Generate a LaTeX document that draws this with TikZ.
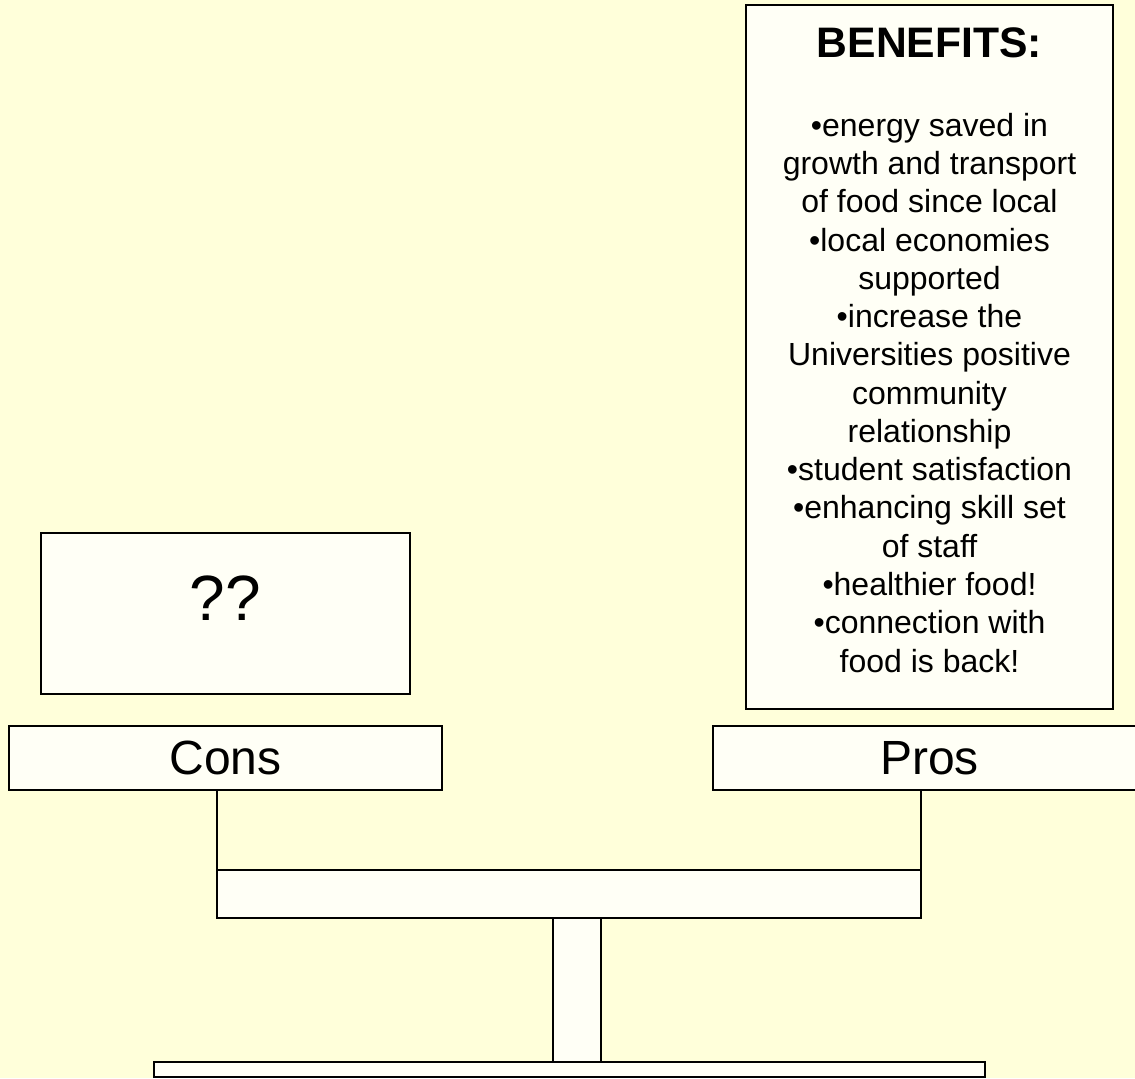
\documentclass[tikz,border=0pt]{standalone}
\usepackage{fontspec}
\setmainfont{Liberation Sans}
\definecolor{bgyellow}{RGB}{255,255,218}
\definecolor{boxfill}{RGB}{255,255,246}
\begin{document}
\begin{tikzpicture}[x=0.75pt,y=-0.75pt,
  panel/.style={rectangle, draw=black, fill=boxfill, line width=1.5pt, inner sep=0pt, outer sep=0pt},
  link/.style={draw=black, line width=1.5pt},
  bigword/.style={font=\fontsize{36}{43}\selectfont}]
\fill[bgyellow] (0,0) rectangle (1135,1078);
\useasboundingbox (0,0) rectangle (1135,1078);

% boxes
\node[panel, minimum width=275.25pt, minimum height=528pt] (benefits) at (929.5,357) {};
\node[panel, minimum width=276.75pt, minimum height=120.75pt] (unknown) at (225.5,613.5) {};
\node[panel, bigword, minimum width=324.75pt, minimum height=48pt] (cons) at (225.5,758) {Cons};
\node[panel, bigword, minimum width=324.75pt, minimum height=48pt] (pros) at (929.5,758) {Pros};
\node[panel, minimum width=528pt, minimum height=36pt] (beam) at (569,894) {};
\node[panel, minimum width=36pt, minimum height=108pt] (post) at (577,990) {};
\node[panel, minimum width=623.25pt, minimum height=11.25pt] (base) at (569.5,1069.5) {};

% texts
\node[anchor=base, inner sep=0pt, font=\bfseries\fontsize{32}{38}\selectfont] (title) at (929.5,57) {BENEFITS:};
\node[anchor=base, inner sep=0pt, align=center, font=\fontsize{24}{28.7}\selectfont] (list) at (929.5,672)
  {•energy saved in\\growth and transport\\of food since local\\•local economies\\supported\\•increase the\\Universities positive\\community\\relationship\\•student satisfaction\\•enhancing skill set\\of staff\\•healthier food!\\•connection with\\food is back!};
\node[anchor=base, inner sep=0pt, font=\fontsize{48}{57}\selectfont] (qq) at (225.5,620) {??};

% connectors
\draw[link] (beam.north west) -- (beam.north west |- cons.south);
\draw[link] (beam.north east) -- (beam.north east |- pros.south);
\end{tikzpicture}
\end{document}
